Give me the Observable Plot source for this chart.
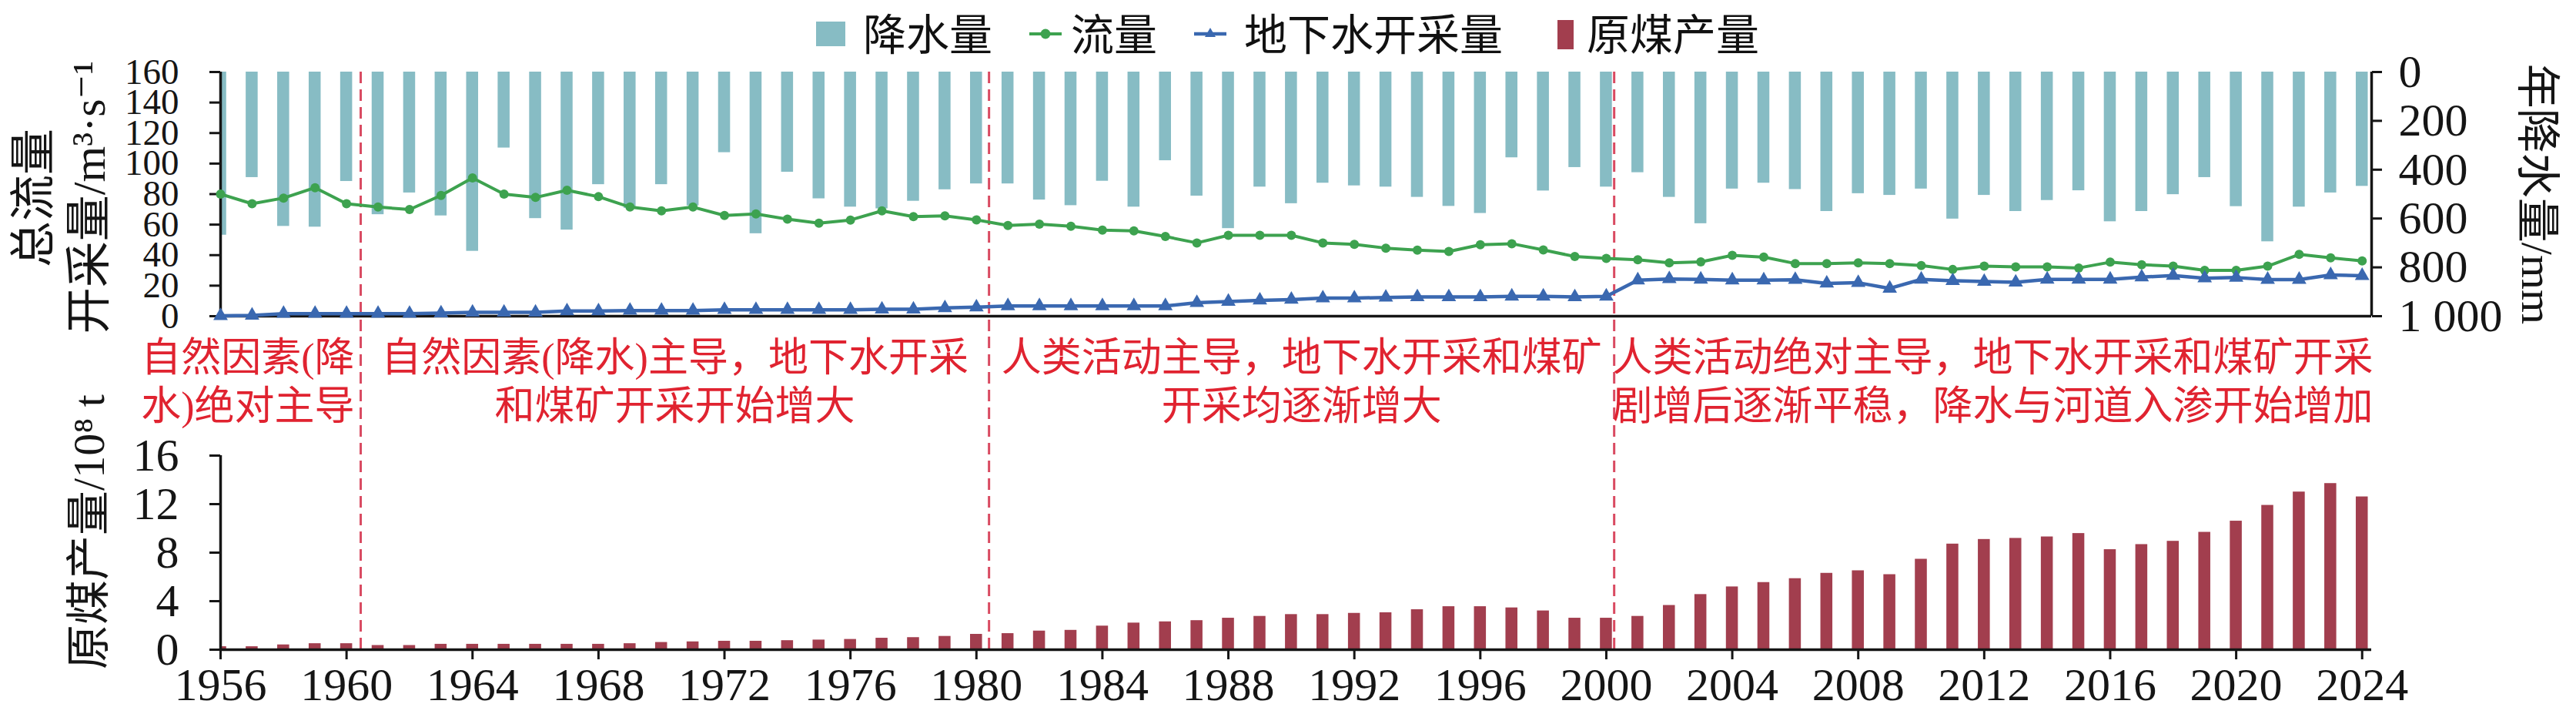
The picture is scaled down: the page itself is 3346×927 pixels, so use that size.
<!DOCTYPE html>
<html><head><meta charset="utf-8">
<script src="https://cdn.jsdelivr.net/npm/d3@7"></script>
<script src="https://cdn.jsdelivr.net/npm/@observablehq/plot@0.6"></script>
<style>
body{margin:0;background:#fff;}
#fig{position:relative;width:3346px;height:927px;overflow:hidden;background:#fff;}
#fig svg.plotsvg{position:absolute;left:0;overflow:visible;}
.lg{position:absolute;top:13px;font-family:"Noto Sans CJK SC",sans-serif;font-size:56px;line-height:56px;color:#111;white-space:nowrap;}
.sw{position:absolute;}
</style></head><body><div id="fig"></div>
<script>
// ---------------- data ----------------
const years = [1956,1957,1958,1959,1960,1961,1962,1963,1964,1965,1966,1967,1968,1969,1970,1971,1972,1973,1974,1975,
1976,1977,1978,1979,1980,1981,1982,1983,1984,1985,1986,1987,1988,1989,1990,1991,1992,1993,1994,1995,
1996,1997,1998,1999,2000,2001,2002,2003,2004,2005,2006,2007,2008,2009,2010,2011,2012,2013,2014,2015,
2016,2017,2018,2019,2020,2021,2022,2023,2024];
// 降水量 (mm)
const precip = [668,432,632,635,448,584,495,589,734,311,600,647,461,558,461,548,330,662,410,519,
553,560,529,482,458,458,524,547,447,553,363,508,641,471,539,455,466,471,513,550,
579,351,487,391,471,412,513,621,479,455,481,571,498,505,479,602,505,571,526,486,
613,571,502,432,551,695,553,495,468];
// 流量 (m3/s)
const flow = [80,73.7,77.4,84.2,73.7,71.5,69.9,79.1,90.6,80,77.8,82.5,78.3,71.5,69,71.5,66,67,63.6,61,
63,69,65.2,65.7,63.1,59.4,60.3,58.9,56.4,55.9,52.2,48,53,53,53,48,47.1,44.6,43.3,42.4,
46.8,47.5,43.4,39.1,37.9,37,35,35.6,39.9,38.7,34.5,34.5,35,34.5,33.2,30.6,32.8,32.3,32.3,31.6,
35.4,33.7,32.8,30,30,32.8,40.5,38.2,36.2];
// 地下水开采量 (m3/s)
const groundwater = [0.2,0.5,1.7,1.7,1.7,1.7,1.7,2.0,2.5,2.5,2.5,3.4,3.4,3.7,3.7,3.7,4.2,4.2,4.2,4.2,
4.2,4.5,4.5,5.4,5.9,6.7,6.7,6.7,6.7,6.7,6.7,8.8,9.6,10.4,10.9,11.8,11.8,12.3,12.6,12.6,
12.6,13,13,12.6,13,23.6,24.4,24.1,23.6,23.6,23.9,21.5,21.9,18.2,24.1,23.2,22.7,22.2,24.1,24.1,
24.1,25.6,26.6,24.9,25.3,24,24,27,26.5];
// 原煤产量 (10^8 t)
const coal = [0.25,0.25,0.4,0.5,0.5,0.35,0.35,0.45,0.45,0.45,0.45,0.45,0.45,0.5,0.6,0.65,0.7,0.7,0.75,0.8,
0.85,0.95,1.0,1.1,1.27,1.33,1.54,1.6,1.95,2.2,2.3,2.4,2.6,2.75,2.9,2.9,3.0,3.05,3.3,3.55,
3.55,3.45,3.2,2.6,2.6,2.75,3.65,4.55,5.18,5.54,5.86,6.3,6.51,6.19,7.46,8.71,9.09,9.18,9.3,9.58,
8.25,8.67,8.94,9.68,10.6,11.9,13.0,13.7,12.6];

const flowTicks = [0,20,40,60,80,100,120,140,160];
const precipTicks = [0,200,400,600,800,1000];
const coalTicks = [0,4,8,12,16];
const xTicks = [1956,1960,1964,1968,1972,1976,1980,1984,1988,1992,1996,2000,2004,2008,2012,2016,2020,2024];
const periodBreaks = [1960.45,1980.4,2000.25];
const annotLine1 = ["自然因素(降","自然因素(降水)主导，地下水开采","人类活动主导，地下水开采和煤矿","人类活动绝对主导，地下水开采和煤矿开采"];
const annotLine2 = ["水)绝对主导","和煤矿开采开始增大","开采均逐渐增大","剧增后逐渐平稳，降水与河道入渗开始增加"];
const legendLabels = ["降水量","流量","地下水开采量","原煤产量"];
const leftTitle1 = "总流量";
const leftTitle2 = "开采量/m³·s⁻¹";
const rightTitle = "年降水量/mm";
const coalTitle = "原煤产量/10⁸ t";

// ---------------- layout / style ----------------
const W = 3346;
const xDomain = [1956, 2024.3];
const ML = 286, MR = W - 3080;
const serif = '"Liberation Serif","DejaVu Serif","Noto Sans CJK SC",serif';
const C = {teal:"#87bcc4", green:"#3da24f", blue:"#3a68b0", coal:"#a23e4e", dash:"#d94a61", note:"#e02330", ink:"#151515"};
const halfBar = 0.19;
const rows = years.map((y,i)=>({year:y, precip:precip[i], flow:flow[i], gw:groundwater[i], coal:coal[i]}));
const style = {fontFamily: serif, fontSize: "58px", background: "transparent", color: C.ink, overflow: "visible"};

const starts = [xDomain[0], ...periodBreaks];
const ends = [...periodBreaks, xDomain[1]];
const annots = annotLine1.map((t,i)=>({x: i===0 ? ends[i] : (starts[i]+ends[i])/2, l1:t, l2:annotLine2[i]}));

const fig = document.getElementById("fig");

// precipitation (right axis, reversed)
const pA = Plot.plot({
  width: W, height: 380, marginTop: 43, marginBottom: 20, marginLeft: ML, marginRight: MR,
  style,
  x: {domain: xDomain, axis: null},
  y: {domain: [0, 1000], reverse: true, axis: null},
  marks: [
    Plot.rect(rows, {x1: d=>d.year-halfBar, x2: d=>d.year+halfBar, y1: 0, y2: "precip", fill: C.teal, clip: true}),
    Plot.axisY({anchor: "right", ticks: precipTicks, tickSize: 13, tickPadding: 22, strokeWidth: 3, fontSize: 60,
      tickFormat: d => d >= 1000 ? "1 000" : String(d), label: null}),
    Plot.ruleX([xDomain[1]], {y1: 0, y2: 1000, stroke: C.ink, strokeWidth: 3.5}),
    Plot.text([rightTitle], {frameAnchor: "right", textAnchor: "middle", dx: 214, rotate: 90, fontSize: 58, fill: C.ink})
  ]
});

// flow + groundwater (left axis)
const pB = Plot.plot({
  width: W, height: 380, marginTop: 43, marginBottom: 20, marginLeft: ML, marginRight: MR,
  style,
  x: {domain: xDomain, axis: null},
  y: {domain: [0, 160], axis: null},
  marks: [
    Plot.axisY({anchor: "left", ticks: flowTicks, tickSize: 14, tickPadding: 40, strokeWidth: 3, fontSize: 47, label: null}),
    Plot.ruleX(periodBreaks, {y1: 160, y2: -10.1, stroke: C.dash, strokeWidth: 3, strokeDasharray: "15,8"}),
    Plot.ruleX([xDomain[0]], {y1: 0, y2: 160, stroke: C.ink, strokeWidth: 3.5}),
    Plot.ruleY([0], {stroke: C.ink, strokeWidth: 3.5}),
    Plot.line(rows, {x: "year", y: "flow", stroke: C.green, strokeWidth: 4}),
    Plot.dot(rows, {x: "year", y: "flow", r: 6, fill: C.green}),
    Plot.line(rows, {x: "year", y: "gw", stroke: C.blue, strokeWidth: 4.5}),
    Plot.dot(rows, {x: "year", y: "gw", symbol: "triangle", r: 7, fill: C.blue}),
    Plot.text([leftTitle1], {frameAnchor: "left", textAnchor: "middle", dx: -242, dy: 5, rotate: -90, fontSize: 60, fill: C.ink}),
    Plot.text([leftTitle2], {frameAnchor: "left", textAnchor: "middle", dx: -170, dy: 4, rotate: -90, fontSize: 60, fill: C.ink})
  ]
});

// coal production
const pC = Plot.plot({
  width: W, height: 497, marginTop: 161, marginBottom: 84, marginLeft: ML, marginRight: MR,
  style,
  x: {domain: xDomain, axis: null},
  y: {domain: [0, 16], axis: null},
  marks: [
    Plot.rect(rows, {x1: d=>d.year-halfBar, x2: d=>d.year+halfBar, y1: 0, y2: "coal", fill: C.coal, clip: true}),
    Plot.axisY({anchor: "left", ticks: coalTicks, tickSize: 14, tickPadding: 40, strokeWidth: 3, fontSize: 60, label: null}),
    Plot.axisX({anchor: "bottom", ticks: xTicks, tickSize: 13, tickPadding: 10, strokeWidth: 3, fontSize: 60,
      tickFormat: d => String(d), label: null}),
    Plot.ruleX(periodBreaks, {y1: 0, y2: 26.2, stroke: C.dash, strokeWidth: 3, strokeDasharray: "15,8"}),
    Plot.ruleX([xDomain[0]], {y1: 0, y2: 16, stroke: C.ink, strokeWidth: 3.5}),
    Plot.ruleY([0], {stroke: C.ink, strokeWidth: 3.5}),
    Plot.text(annots.slice(0,1), {x: "x", y: 24, text: "l1", textAnchor: "end", dx: -8, fontSize: 52, fill: C.note, fontFamily: serif}),
    Plot.text(annots.slice(0,1), {x: "x", y: 20, text: "l2", textAnchor: "end", dx: -8, fontSize: 52, fill: C.note, fontFamily: serif}),
    Plot.text(annots.slice(1), {x: "x", y: 24, text: "l1", fontSize: 52, fill: C.note, fontFamily: serif}),
    Plot.text(annots.slice(1), {x: "x", y: 20, text: "l2", fontSize: 52, fill: C.note, fontFamily: serif}),
    Plot.text([coalTitle], {frameAnchor: "left", textAnchor: "middle", dx: -170, dy: -27, rotate: -90, fontSize: 58, fill: C.ink})
  ]
});

[[pA,50],[pB,50],[pC,430]].forEach(([el,top])=>{
  el.classList.add("plotsvg");
  el.style.position = "absolute";
  el.style.left = "0px";
  el.style.top = top + "px";
  fig.appendChild(el);
});

// ---------------- legend (HTML, above the charts) ----------------
function addText(txt, left){
  const d = document.createElement("div");
  d.className = "lg"; d.textContent = txt; d.style.left = left + "px";
  fig.appendChild(d);
}
function addSwatch(left, top, w, h, inner){
  const ns = "http://www.w3.org/2000/svg";
  const s = document.createElementNS(ns, "svg");
  s.setAttribute("class","sw"); s.setAttribute("width", w); s.setAttribute("height", h);
  s.style.left = left + "px"; s.style.top = top + "px";
  s.innerHTML = inner;
  fig.appendChild(s);
}
addSwatch(1060, 28, 38, 32, `<rect width="38" height="32" fill="${C.teal}"/>`);
addText(legendLabels[0], 1121);
addSwatch(1337, 29, 42, 30, `<line x1="0" y1="15" x2="42" y2="15" stroke="${C.green}" stroke-width="4"/><circle cx="21" cy="15" r="6.5" fill="${C.green}"/>`);
addText(legendLabels[1], 1391);
addSwatch(1551, 29, 42, 30, `<line x1="0" y1="15" x2="42" y2="15" stroke="${C.blue}" stroke-width="4.5"/><path d="M21,7 L28,19 L14,19 Z" fill="${C.blue}"/>`);
addText(legendLabels[2], 1616);
addSwatch(2023, 26, 21, 38, `<rect width="21" height="38" fill="${C.coal}"/>`);
addText(legendLabels[3], 2061);
</script>
</body></html>
